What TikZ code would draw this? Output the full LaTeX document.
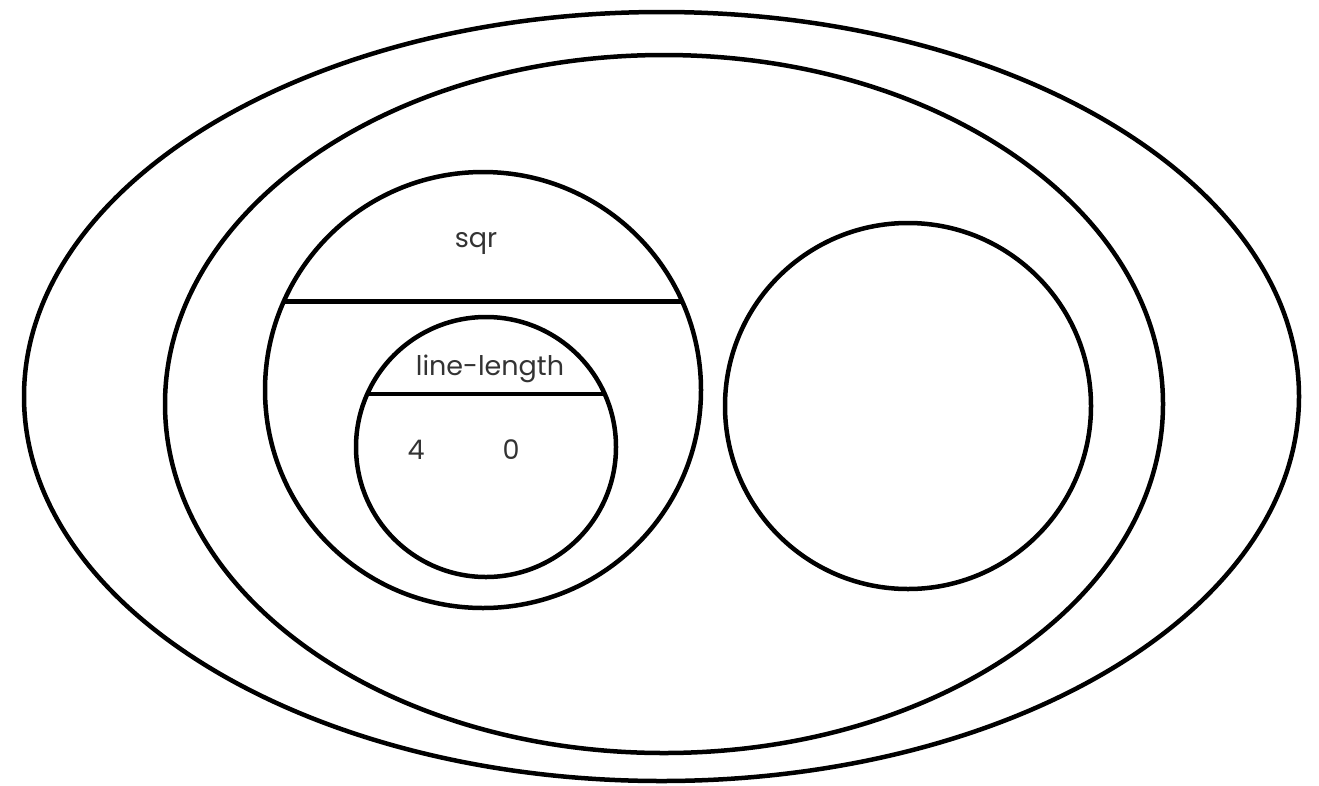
\documentclass[tikz,border=0pt]{standalone}
\usepackage{fontspec}
\setmainfont{Poppins}
\usetikzlibrary{shapes.geometric}
\begin{document}
\begin{tikzpicture}[x=1pt,y=-1pt,
  ring/.style={draw, line width=4.5pt, inner sep=0pt, outer sep=0pt},
  chord/.style={line width=4.5pt},
  lbl/.style={font=\fontsize{27}{32}\selectfont, text=black!80, anchor=base}]
\useasboundingbox (0,0) rectangle (1319,785);
\node[ring, ellipse, minimum width=1275pt, minimum height=769pt] (outer) at (661.5,396.5) {};
\node[ring, ellipse, minimum width=998pt, minimum height=698pt] (inner) at (664,404) {};
\node[ring, circle, minimum size=436pt] (sqr) at (483,390) {};
\node[ring, circle, minimum size=260pt] (ll) at (486,447) {};
\node[ring, circle, minimum size=366pt] (right) at (908,406) {};
\begin{scope}
  \clip (sqr.center) circle [radius=219pt];
  \draw[chord] (sqr.156.2) -- (sqr.east |- sqr.156.2);
\end{scope}
\begin{scope}
  \clip (ll.center) circle [radius=131pt];
  \draw[chord] (ll.156.4) -- (ll.east |- ll.156.4);
\end{scope}
\node[lbl] (sqrlbl) at (476,247) {sqr};
\node[lbl] (lllbl) at (490,375) {line-length};
\node[lbl] (four) at (416,459) {4};
\node[lbl] (zero) at (511,459) {0};
\end{tikzpicture}
\end{document}
